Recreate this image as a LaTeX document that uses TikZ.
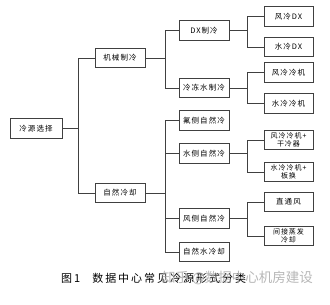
\documentclass[tikz,border=0pt]{standalone}
\usepackage{fontspec}
\setmainfont{Noto Sans CJK SC}
\newfontfamily\boxfont[LetterSpace=14]{Noto Sans CJK SC}
\newfontfamily\capfont[LetterSpace=18]{Noto Sans CJK SC}
\newfontfamily\wmfont{Noto Sans CJK SC}
\begin{document}
\begin{tikzpicture}[x=1pt,y=-1pt,
  box/.style={draw=black!75, line width=0.7pt, fill=white, inner sep=0pt,
    minimum height=19.5pt, minimum width=50pt, align=center,
    font=\boxfont\fontsize{7.5}{8}\selectfont},
  boxtwo/.style={box, font=\boxfont\fontsize{7}{7.6}\selectfont},
  conn/.style={draw=black!75, line width=0.7pt}]
\useasboundingbox (0,0) rectangle (330,305);
\fill[white] (0,0) rectangle (330,305);
% level 1
\node[box, minimum width=52pt] (root) at (36,128.5) {冷源选择};
% level 2
\node[box] (mech) at (120,58) {机械制冷};
\node[box] (nat) at (120,193) {自然冷却};
% level 3
\node[box] (dx) at (204,30.5) {DX制冷};
\node[box] (chw) at (204,88) {冷冻水制冷};
\node[box] (fluor) at (204,120.5) {氟侧自然冷};
\node[box] (wside) at (204,153.5) {水侧自然冷};
\node[box] (aside) at (204,218.5) {风侧自然冷};
\node[box] (nwater) at (204,252) {自然水冷却};
% level 4
\node[box, minimum width=49pt] (fdx) at (288.5,16.5) {风冷DX};
\node[box, minimum width=49pt] (sdx) at (288.5,47) {水冷DX};
\node[box, minimum width=49pt] (fch) at (288.5,72.5) {风冷冷机};
\node[box, minimum width=49pt] (sch) at (288.5,103.5) {水冷冷机};
\node[boxtwo, minimum width=49pt] (fdry) at (288.5,140) {风冷冷机+\\干冷器};
\node[boxtwo, minimum width=49pt] (splate) at (288.5,172) {水冷冷机+\\板换};
\node[box, minimum width=49pt] (direct) at (288.5,202) {直通风};
\node[boxtwo, minimum width=49pt] (indirect) at (288.5,236) {间接蒸发\\冷却};
% bracket x positions
\coordinate (b1) at (78,0);
\coordinate (b2) at (165,0);
\coordinate (b3) at (247,0);
% connectors
\draw[conn] (root.east) -- (root.east -| b1) |- (mech.west);
\draw[conn] (root.east -| b1) |- (nat.west);
\draw[conn] (mech.east) -- (mech.east -| b2) |- (dx.west);
\draw[conn] (mech.east -| b2) |- (chw.west);
\draw[conn] (nat.east) -- (nat.east -| b2) |- (fluor.west);
\draw[conn] (nat.east -| b2) |- (wside.west);
\draw[conn] (nat.east -| b2) |- (aside.west);
\draw[conn] (nat.east -| b2) |- (nwater.west);
\draw[conn] (dx.east) -- (dx.east -| b3) |- (fdx.west);
\draw[conn] (dx.east -| b3) |- (sdx.west);
\draw[conn] (chw.east) -- (chw.east -| b3) |- (fch.west);
\draw[conn] (chw.east -| b3) |- (sch.west);
\draw[conn] (wside.east) -- (wside.east -| b3) |- (fdry.west);
\draw[conn] (wside.east -| b3) |- (splate.west);
\draw[conn] (aside.east) -- (aside.east -| b3) |- (direct.west);
\draw[conn] (aside.east -| b3) |- (indirect.west);
% caption and watermark
\node[anchor=west, inner sep=0pt, font=\capfont\fontsize{11}{12}\selectfont] (cap) at (61,278) {图1\hspace{12pt}数据中心常见冷源形式分类};
\node[anchor=west, inner sep=0pt, text=black!35, opacity=0.8, font=\wmfont\fontsize{13.5}{14}\selectfont] (wm) at (162,278) {知乎 @数据中心机房建设};
\end{tikzpicture}
\end{document}
